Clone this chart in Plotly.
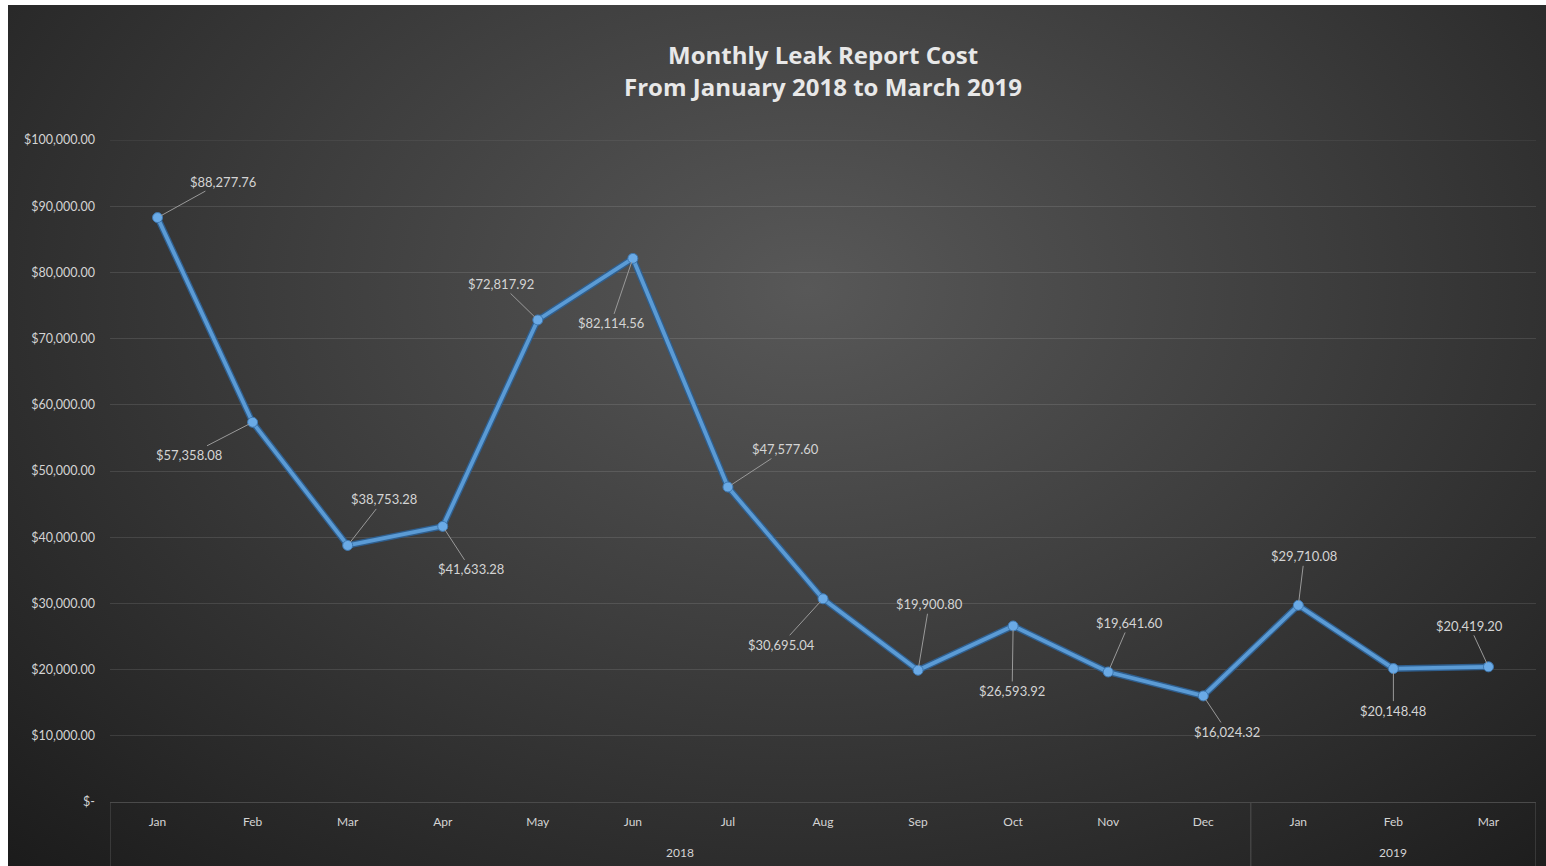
import base64
import plotly.graph_objects as go

# Monthly leak report cost, Jan 2018 - Mar 2019
months = ["Jan", "Feb", "Mar", "Apr", "May", "Jun", "Jul", "Aug", "Sep", "Oct", "Nov", "Dec",
          "Jan", "Feb", "Mar"]
years = ["2018", "2019"]
year_month_counts = [12, 3]
costs = [88277.76, 57358.08, 38753.28, 41633.28, 72817.92, 82114.56, 47577.60, 30695.04,
         19900.80, 26593.92, 19641.60, 16024.32, 29710.08, 20148.48, 20419.20]
y_ticks = list(range(0, 100001, 10000))
title_lines = ["Monthly Leak Report Cost", "From January 2018 to March 2019"]

# pixel offsets of each data label from its point (leader-line callouts)
label_dx = [65, -64, 36, 28, -37, -22, 58, -42, 11, -1, 21, 24, 6, 0, -19]
label_dy = [-36, 33, -46, 43, -36, 65, -38, 46, -66, 65, -49, 36, -49, 42, -41]

W, H = 1546, 866
L, R, T, B = 110, 10, 140, 64
pw, ph = W - L - R, H - T - B

TXT = "#d4d4d4"
FONT = "Lato"
BLUE = "#5b9bd5"

x = list(range(len(costs)))


def money(v):
    return "$-" if v == 0 else f"${v:,.2f}"


fig = go.Figure()
# darker edge under the line for the outlined look
fig.add_trace(go.Scatter(x=x, y=costs, mode="lines",
                         line=dict(color="#2f5f8f", width=6.5), hoverinfo="skip"))
fig.add_trace(go.Scatter(x=x, y=costs, mode="lines+markers",
                         line=dict(color=BLUE, width=3.8),
                         marker=dict(size=10, color="#6aaae6",
                                     line=dict(color="#3f78b0", width=1))))

for i, v in enumerate(costs):
    fig.add_annotation(x=i, y=v, text=money(v), showarrow=True, arrowhead=0,
                       arrowwidth=1, arrowcolor="#9a9a9a", ax=label_dx[i], ay=label_dy[i],
                       standoff=4, font=dict(family=FONT, size=13, color=TXT))

# title, two centred lines
for k, line in enumerate(title_lines):
    fig.add_annotation(x=0.5, y=(T + ph - (55 + 32 * k)) / ph, xref="paper", yref="paper",
                       text=line, showarrow=False, xanchor="center", yanchor="middle",
                       font=dict(family="Open Sans", size=24, color="#e8e8e8", weight=700))

# top gridline at the range edge
fig.add_shape(type="line", x0=0, x1=1, xref="paper", y0=y_ticks[-1], y1=y_ticks[-1], yref="y",
              line=dict(color="rgba(255,255,255,0.11)", width=1.2), layer="below")

# year group labels and dividers under the month axis
start = 0
bounds = [-0.5]
for yr, n in zip(years, year_month_counts):
    mid = start + (n - 1) / 2
    fig.add_annotation(x=mid, y=-50 / ph, xref="x", yref="paper", text=yr, showarrow=False,
                       yanchor="middle", font=dict(family=FONT, size=12, color=TXT))
    start += n
    bounds.append(start - 0.5)
for b in bounds:
    fig.add_shape(type="line", x0=b, x1=b, y0=0, y1=-(H - (T + ph)) / ph, xref="x", yref="paper",
                  line=dict(color="#4a4a4a", width=1.2))

# radial-gradient chart background
svg = ('<svg xmlns="http://www.w3.org/2000/svg" width="1538" height="861" viewBox="0 0 1538 861" '
       'preserveAspectRatio="none"><defs><radialGradient id="g" cx="0.52" cy="0.33" r="0.75" '
       'gradientTransform="translate(0.52 0.33) scale(1 1.25) translate(-0.52 -0.33)">'
       '<stop offset="0" stop-color="#585858"/><stop offset="0.45" stop-color="#3d3d3d"/>'
       '<stop offset="1" stop-color="#1b1b1b"/></radialGradient></defs>'
       '<rect width="1538" height="861" fill="url(#g)"/></svg>')
src = "data:image/svg+xml;base64," + base64.b64encode(svg.encode()).decode()
bx0, by0 = 8, 5
fig.add_layout_image(source=src, xref="paper", yref="paper",
                     x=(bx0 - L) / pw, y=(T + ph - by0) / ph,
                     sizex=(W - bx0) / pw, sizey=(H - by0) / ph,
                     xanchor="left", yanchor="top", sizing="stretch", layer="below")

fig.update_layout(
    width=W, height=H,
    margin=dict(l=L, r=R, t=T, b=B),
    paper_bgcolor="white", plot_bgcolor="rgba(0,0,0,0)",
    showlegend=False,
)
fig.update_xaxes(range=[-0.5, len(costs) - 0.5], tickvals=x, ticktext=months,
                 showgrid=False, zeroline=False, showline=True, linecolor="#4a4a4a", linewidth=1.2,
                 ticks="", tickfont=dict(family=FONT, size=12, color=TXT), ticklabelstandoff=8)
fig.update_yaxes(range=[0, 100000], tickvals=y_ticks, ticktext=[money(v) for v in y_ticks],
                 showgrid=True, gridcolor="rgba(255,255,255,0.11)", gridwidth=1.2,
                 zeroline=False, showline=False, ticks="",
                 tickfont=dict(family=FONT, size=12.5, color=TXT), ticklabelstandoff=14)

fig.write_html("out.html")
